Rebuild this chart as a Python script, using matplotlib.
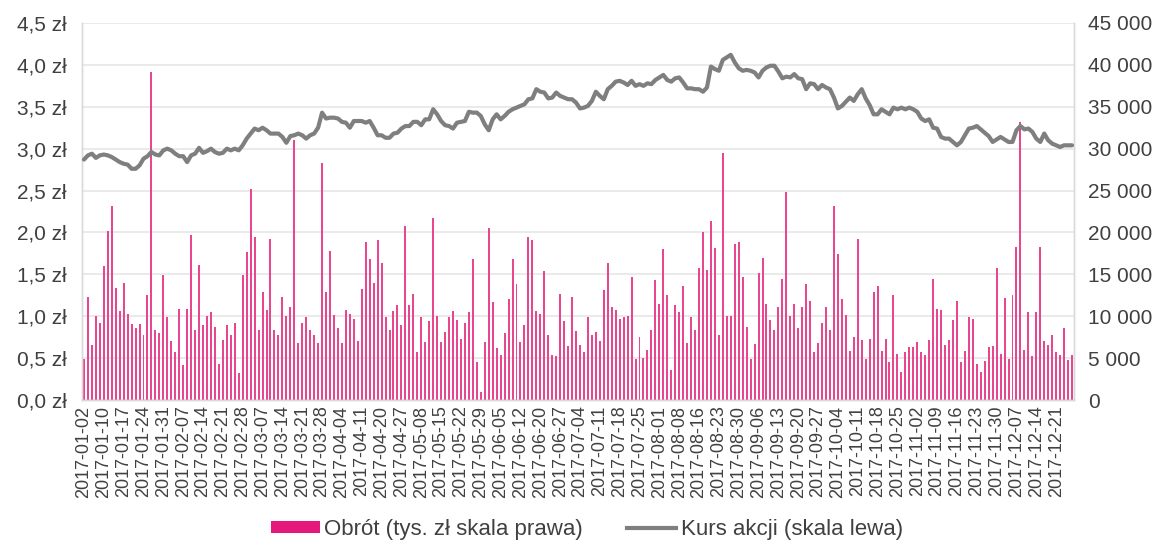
import matplotlib
matplotlib.use("Agg")
import matplotlib.pyplot as plt
from matplotlib.ticker import FuncFormatter, MultipleLocator
from matplotlib.patches import Patch
from matplotlib.lines import Line2D
import numpy as np
import pandas as pd

plt.rcParams['font.family'] = ['Liberation Sans', 'DejaVu Sans']

# Warsaw Stock Exchange: weekday holidays in 2017 (no session)
HOLIDAYS = ['2017-01-06', '2017-04-14', '2017-04-17', '2017-05-01', '2017-05-03',
            '2017-06-15', '2017-08-15', '2017-11-01', '2017-12-25', '2017-12-26']
SESSIONS = pd.bdate_range('2017-01-02', '2017-12-29', freq='C', holidays=HOLIDAYS)

# Daily turnover, thousand PLN (right scale)
TURNOVER = [
    4900, 12300, 6600, 10000, 9200, 16000, 20200, 23100, 13400, 10600,
    14000, 10300, 9100, 8600, 9100, 7700, 12500, 39200, 8300, 8000,
    14900, 9900, 7100, 5700, 10900, 4200, 10900, 19700, 8300, 16100,
    8900, 10000, 10500, 8700, 4300, 7200, 8900, 7800, 9200, 3200,
    14900, 17700, 25200, 19400, 8300, 12900, 10800, 19200, 8300, 7800,
    12300, 10000, 11100, 31000, 6800, 9200, 9900, 8300, 7800, 6800,
    28300, 12900, 17800, 10100, 8600, 6800, 10800, 10300, 9700, 7100,
    13300, 18800, 16800, 14000, 19100, 16400, 9900, 8400, 10600, 11300,
    8900, 20800, 11300, 12700, 5700, 9900, 6900, 9400, 21700, 10000,
    6900, 8100, 9900, 10600, 9500, 7300, 9200, 10500, 16800, 4500,
    900, 6900, 20500, 11700, 6200, 5400, 8000, 12000, 16800, 13900,
    6900, 8900, 19400, 19100, 10600, 10300, 15400, 7800, 5400, 5300,
    12700, 9400, 6500, 12300, 8200, 6600, 5700, 9900, 7700, 8100,
    7100, 13100, 16400, 11100, 10800, 9700, 9900, 10000, 14700, 4900,
    7500, 5000, 6000, 8300, 14300, 11500, 18000, 12500, 3600, 11300,
    10500, 13600, 6800, 9900, 8300, 15800, 20000, 15500, 21400, 18200,
    7800, 29500, 10000, 10000, 18600, 18800, 14700, 8700, 4900, 6700,
    15200, 16900, 11400, 9500, 8400, 11100, 14500, 24800, 10000, 11500,
    8600, 11100, 13900, 11800, 5700, 6800, 9200, 11100, 8300, 23200,
    17400, 12000, 10100, 5800, 7500, 19200, 7200, 4900, 7300, 12900,
    13600, 5800, 7300, 4500, 12500, 5500, 3400, 5700, 6300, 6300,
    6900, 5700, 5400, 7200, 14500, 10900, 10800, 6600, 7200, 9500,
    11800, 4500, 5800, 9900, 9700, 4300, 3400, 4600, 6300, 6500,
    15800, 5500, 12200, 4900, 12500, 18300, 33200, 6000, 10500, 5300,
    10500, 18300, 7100, 6600, 7700, 5700, 5400, 8600, 4800, 5400,
]

# Closing share price, PLN (left scale)
PRICE = [
    2.87, 2.92, 2.94, 2.89, 2.92, 2.93, 2.92, 2.90, 2.87, 2.84,
    2.82, 2.81, 2.76, 2.76, 2.80, 2.88, 2.91, 2.96, 2.93, 2.92,
    2.98, 3.00, 2.98, 2.94, 2.91, 2.91, 2.84, 2.92, 2.94, 3.01,
    2.95, 2.97, 3.00, 2.96, 2.94, 2.95, 3.00, 2.98, 3.00, 2.98,
    3.04, 3.12, 3.18, 3.24, 3.22, 3.25, 3.22, 3.18, 3.18, 3.18,
    3.14, 3.07, 3.15, 3.16, 3.18, 3.16, 3.12, 3.16, 3.18, 3.25,
    3.43, 3.36, 3.37, 3.37, 3.36, 3.32, 3.31, 3.25, 3.33, 3.33,
    3.33, 3.31, 3.33, 3.25, 3.16, 3.16, 3.13, 3.13, 3.18, 3.19,
    3.24, 3.27, 3.27, 3.32, 3.32, 3.28, 3.35, 3.35, 3.47, 3.41,
    3.33, 3.28, 3.27, 3.24, 3.31, 3.32, 3.33, 3.44, 3.43, 3.43,
    3.39, 3.29, 3.22, 3.35, 3.41, 3.35, 3.39, 3.44, 3.47, 3.49,
    3.51, 3.53, 3.59, 3.60, 3.71, 3.68, 3.67, 3.60, 3.61, 3.67,
    3.63, 3.61, 3.59, 3.59, 3.55, 3.48, 3.49, 3.51, 3.57, 3.68,
    3.63, 3.59, 3.71, 3.75, 3.80, 3.81, 3.79, 3.76, 3.81, 3.75,
    3.77, 3.75, 3.78, 3.77, 3.82, 3.85, 3.88, 3.82, 3.80, 3.84,
    3.85, 3.79, 3.72, 3.72, 3.71, 3.71, 3.68, 3.73, 3.98, 3.95,
    3.93, 4.06, 4.09, 4.12, 4.03, 3.96, 3.93, 3.94, 3.93, 3.91,
    3.85, 3.93, 3.97, 3.99, 3.99, 3.92, 3.84, 3.86, 3.85, 3.89,
    3.84, 3.83, 3.71, 3.78, 3.77, 3.71, 3.76, 3.73, 3.71, 3.61,
    3.48, 3.51, 3.56, 3.61, 3.57, 3.65, 3.71, 3.60, 3.52, 3.41,
    3.41, 3.47, 3.44, 3.41, 3.49, 3.47, 3.49, 3.47, 3.49, 3.47,
    3.44, 3.36, 3.33, 3.35, 3.25, 3.24, 3.14, 3.12, 3.12, 3.08,
    3.04, 3.08, 3.16, 3.24, 3.25, 3.27, 3.23, 3.19, 3.15, 3.08,
    3.11, 3.14, 3.11, 3.08, 3.08, 3.22, 3.27, 3.23, 3.24, 3.20,
    3.12, 3.08, 3.18, 3.10, 3.06, 3.04, 3.02, 3.04, 3.04, 3.04,
]

SERIES_LABELS = ['Obrót (tys. zł skala prawa)', 'Kurs akcji (skala lewa)']

PINK = '#E8468F'
PINK_KEY = '#E5187C'
GRAY = '#7F7F7F'
TEXT = '#404040'
GRID = '#E4E4E4'

W, H = 1162, 546
fig = plt.figure(figsize=(W / 100, H / 100), dpi=100)
fig.patch.set_facecolor('white')

x = np.arange(len(SESSIONS))

# left axis: share price line; right (twin) axis: turnover bars
ax_price = fig.add_axes([82 / W, 1 - 400 / H, (1074 - 82) / W, 377 / H])
ax_bar = ax_price.twinx()
ax_price.set_zorder(ax_bar.get_zorder() + 1)
ax_price.patch.set_visible(False)

ax_bar.bar(x, TURNOVER, width=0.5, color=PINK, linewidth=0, zorder=2)
ax_bar.set_ylim(0, 45000)
ax_bar.yaxis.set_major_locator(MultipleLocator(5000))
ax_bar.yaxis.set_major_formatter(
    FuncFormatter(lambda v, p: f'{int(v):,}'.replace(',', ' ')))
ax_bar.grid(axis='y', color=GRID, linewidth=1.1, zorder=0)
ax_bar.set_axisbelow(True)

ax_price.plot(x, PRICE, color=GRAY, linewidth=3.0, solid_joinstyle='round',
              solid_capstyle='round', zorder=3)
ax_price.set_ylim(0, 4.5)
ax_price.yaxis.set_major_locator(MultipleLocator(0.5))
ax_price.yaxis.set_major_formatter(
    FuncFormatter(lambda v, p: f'{v:.1f}'.replace('.', ',') + ' zł'))

ax_price.set_xlim(-0.5, len(x) - 0.5)
tick_idx = x[::5]
ax_price.set_xticks(tick_idx)
ax_price.set_xticklabels([SESSIONS[i].strftime('%Y-%m-%d') for i in tick_idx],
                         rotation=90, fontsize=13, color=TEXT)

ax_price.tick_params(axis='y', length=0, pad=11, labelsize=15, labelcolor=TEXT)
ax_bar.tick_params(axis='y', length=0, pad=10, labelsize=15, labelcolor=TEXT)
ax_price.tick_params(axis='x', length=0, pad=4)

for a in (ax_price, ax_bar):
    a.spines['top'].set_visible(False)
    for s in ('left', 'right', 'bottom'):
        a.spines[s].set_color('#DADADA')
        a.spines[s].set_linewidth(1.0)

handles = [Patch(facecolor=PINK_KEY, edgecolor='none'),
           Line2D([], [], color=GRAY, linewidth=3.0)]
fig.legend(handles, SERIES_LABELS, loc='center', bbox_to_anchor=(0.505, 0.03),
           ncol=2, frameon=False, fontsize=16, handlelength=2.2, handleheight=0.45,
           handletextpad=0.2, columnspacing=2.0, labelcolor=TEXT,
           borderpad=0.1)

fig.savefig('out.png', dpi=100, facecolor='white')
